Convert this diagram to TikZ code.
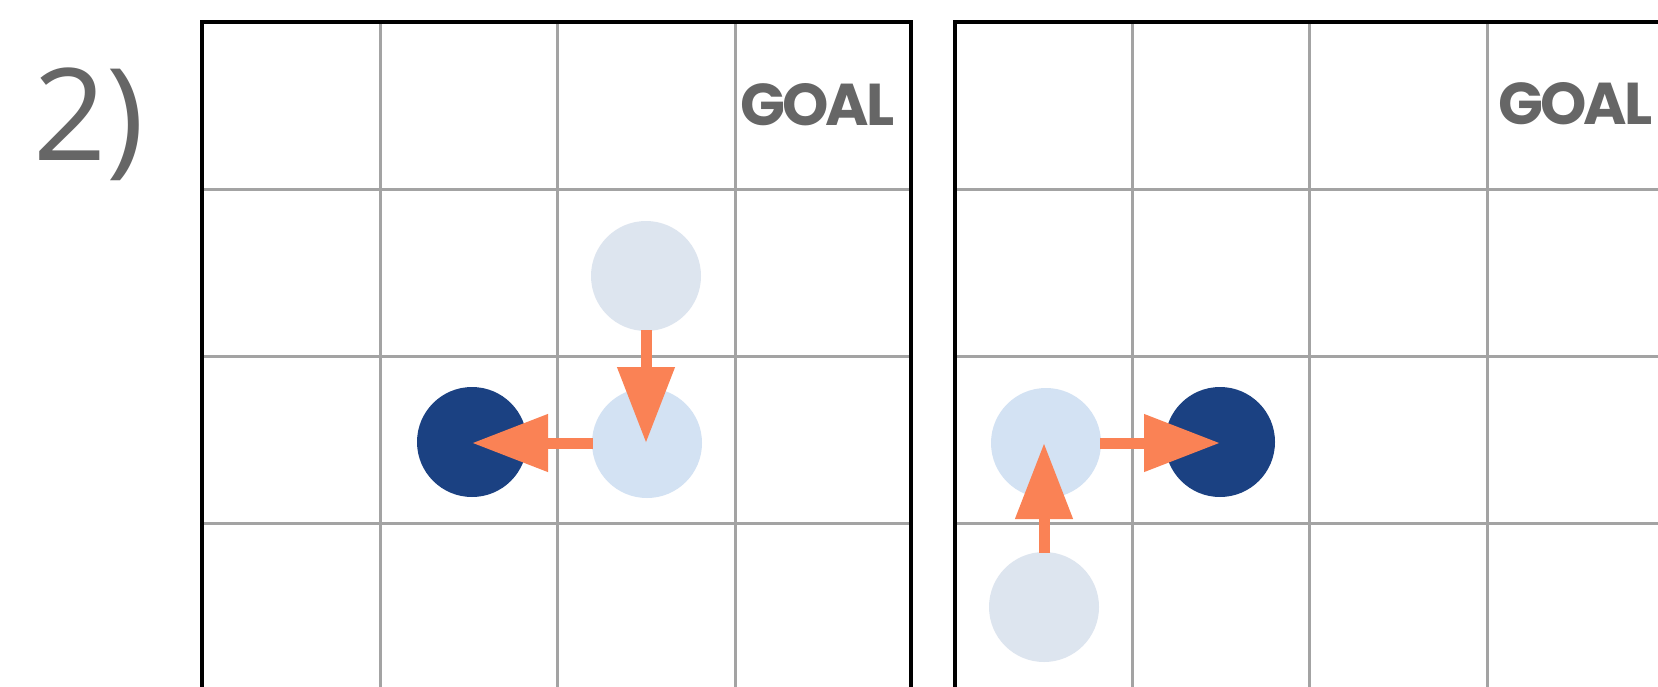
\documentclass[tikz,border=0pt]{standalone}
\usepackage{fontspec}
\setmainfont{Open Sans}
\newfontfamily\goalfont{Poppins}[UprightFont=* Bold, LetterSpace=-5]
\usetikzlibrary{arrows.meta}
\definecolor{gridgray}{HTML}{A3A3A3}
\definecolor{txtgray}{HTML}{666666}
\definecolor{lightA}{HTML}{DDE5EF}
\definecolor{lightB}{HTML}{D3E2F3}
\definecolor{navy}{HTML}{1B4182}
\definecolor{coral}{HTML}{FA8255}
\tikzset{
  gridline/.style={draw=gridgray, line width=1.5pt},
  border/.style={draw=black, line width=2pt},
  ball/.style={circle, minimum size=55pt, inner sep=0pt, draw=none},
  ghost/.style={ball, fill=lightA},
  mid/.style={ball, fill=lightB},
  agent/.style={ball, fill=navy},
  move/.style={draw=coral, line width=5.5pt, -{Triangle[length=38pt, width=27.5pt]}, shorten <=-0.5pt},
  goal/.style={text=txtgray, font=\goalfont\fontsize{29.5}{31}\selectfont, inner sep=0pt, anchor=base west},
}
\begin{document}
\begin{tikzpicture}[x=0.5pt, y=-0.5pt]
\useasboundingbox (0,0) rectangle (1658,686);
\fill[white] (0,0) rectangle (1658,686);
\begin{scope}
\clip (0,0) rectangle (1658,686);
% grid 1
\foreach \x in {380,557.5,735} \draw[gridline] (\x,22) -- (\x,700);
\foreach \y in {189.5,356,523} \draw[gridline] (202,\y) -- (911,\y);
\draw[border] (202,700) -- (202,22) -- (911,22) -- (911,700);
% grid 2
\foreach \x in {1132,1309.5,1487} \draw[gridline] (\x,22) -- (\x,700);
\foreach \y in {189.5,356,523} \draw[gridline] (955,\y) -- (1665,\y);
\draw[border] (955,700) -- (955,22) -- (1665,22) -- (1665,700);
\end{scope}

\node[anchor=base west, inner sep=0pt, text=txtgray, font=\fontsize{64}{70}\selectfont] (label) at (33,160) {2)};
\node[goal] (goal1) at (740,125) {GOAL};
\node[goal] (goal2) at (1498,124) {GOAL};

% grid 1 pieces
\node[ghost] (g1a) at (646,276) {};
\node[mid] (g1b) at (647,443) {};
\node[agent] (g1c) at (472,442) {};
\draw[move] (g1a.south) -- (g1a.south |- g1b.center);
\draw[move] (g1b.west) -- (g1c.center |- g1b.west);

% grid 2 pieces
\node[ghost] (g2a) at (1044,607) {};
\node[mid] (g2b) at (1046,443) {};
\node[agent] (g2c) at (1220,442) {};
\draw[move] (g2a.north) -- (g2a.north |- g2b.center);
\draw[move] (g2b.east) -- (g2c.center |- g2b.east);
\end{tikzpicture}
\end{document}
